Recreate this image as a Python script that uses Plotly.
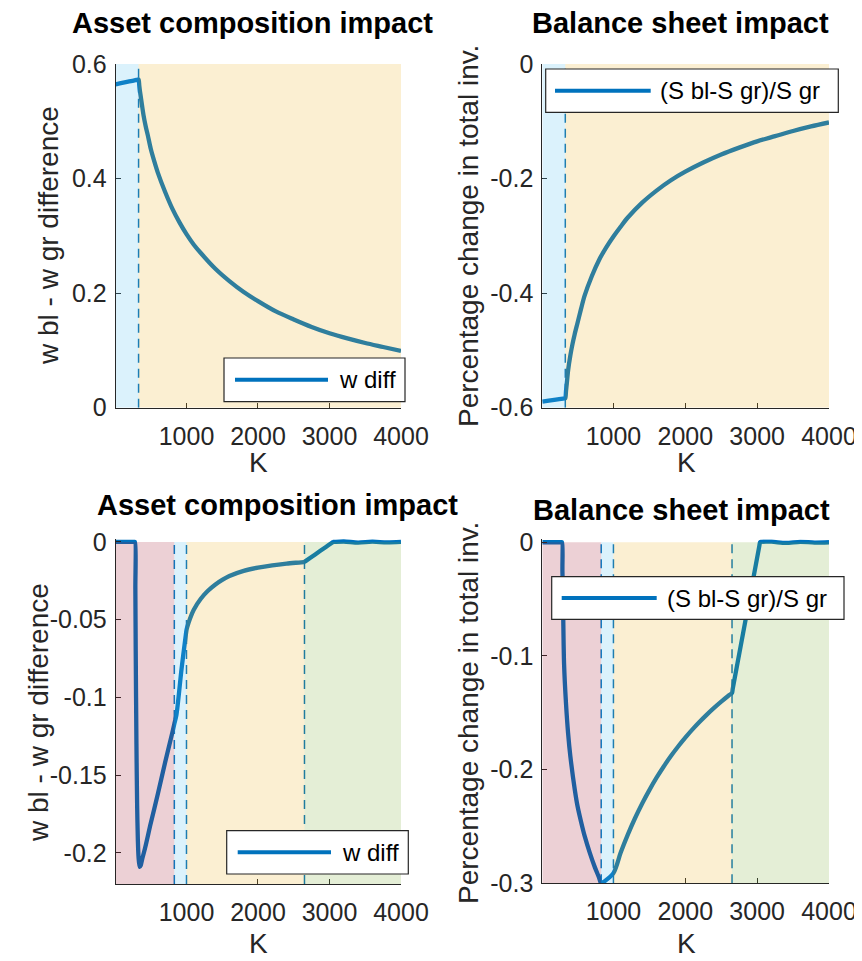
import plotly.graph_objects as go

# ---------------- data ----------------
K_tl = [10, 100, 200, 300, 320, 330, 340, 350, 370, 400, 430, 460, 500, 550, 600,
        700, 800, 900, 1000, 1100, 1200, 1400, 1600, 1800, 2000, 2250, 2500,
        2750, 3000, 3250, 3500, 3750, 4000]
w_diff_top = [0.5645, 0.567, 0.5695, 0.5722, 0.5728, 0.573, 0.562, 0.552, 0.535,
              0.51, 0.491, 0.475, 0.452, 0.43, 0.41, 0.377, 0.348, 0.324, 0.303,
              0.285, 0.27, 0.243, 0.221, 0.202, 0.186, 0.168, 0.154, 0.141, 0.130,
              0.121, 0.113, 0.106, 0.099]

K_tr = [10, 100, 200, 300, 320, 330, 340, 350, 370, 400, 430, 460, 500, 550, 600,
        700, 800, 900, 1000, 1100, 1200, 1400, 1600, 1800, 2000, 2250, 2500,
        2750, 3000, 3250, 3500, 3750, 4000]
s_diff_top = [-0.5895, -0.5878, -0.586, -0.5841, -0.5837, -0.5835, -0.571, -0.559,
              -0.534, -0.509, -0.489, -0.472, -0.452, -0.427, -0.404, -0.370, -0.342,
              -0.320, -0.301, -0.284, -0.268, -0.242, -0.221, -0.203, -0.188,
              -0.172, -0.158, -0.146, -0.135, -0.126, -0.117, -0.109, -0.102]

K_bl = [10, 150, 270, 280, 285, 290, 300, 310, 320, 330, 345, 360, 380, 420, 500,
        600, 700, 800, 830, 860, 930, 990, 1000, 1010, 1050, 1100, 1200, 1300,
        1400, 1500, 1600, 1800, 2000, 2200, 2400, 2640, 2650, 2660, 2800, 2950,
        3040, 3050, 3060, 3200, 3400, 3600, 3800, 4000]
w_diff_bot = [0, 0, 0, 0, -0.03, -0.07, -0.13, -0.17, -0.192, -0.203, -0.209, -0.208,
              -0.204, -0.197, -0.181, -0.162, -0.142, -0.123, -0.117, -0.111, -0.082,
              -0.06, -0.0567, -0.0548, -0.0492, -0.0437, -0.0365, -0.0314, -0.0275,
              -0.0244, -0.0219, -0.0186, -0.0165, -0.015, -0.0139, -0.0129, -0.0128,
              -0.0125, -0.008, -0.0032, -0.0003, 0, 0, 0.0003, -0.0004, 0.0002,
              -0.0003, 0]

K_br = [10, 150, 275, 285, 290, 300, 313, 340, 369, 400, 463, 500, 550, 602, 670,
        742, 800, 833, 845, 1000, 1100, 1200, 1300, 1400, 1500, 1600, 1700, 1800,
        1900, 2000, 2100, 2200, 2300, 2400, 2500, 2600, 2650, 2660, 2800, 2950,
        3030, 3040, 3050, 3200, 3400, 3600, 3800, 4000]
s_diff_bot = [0, 0, 0, 0, -0.025, -0.06, -0.107, -0.142, -0.168, -0.188, -0.218,
              -0.232, -0.246, -0.259, -0.273, -0.286, -0.295, -0.301, -0.3, -0.291,
              -0.2732, -0.2572, -0.2428, -0.2298, -0.218, -0.2071, -0.1972, -0.1881,
              -0.1797, -0.1719, -0.1646, -0.1579, -0.1516, -0.1457, -0.1402, -0.135,
              -0.1325, -0.129, -0.0815, -0.0306, -0.0034, 0, 0.0003, 0.0005, -0.0006,
              0.0004, -0.0003, 0]

top_bounds = [10, 330, 4000]
top_colors = ["#4DBEEE", "#EDB120"]
bot_bounds = [10, 830, 1000, 2650, 4000]
bot_colors = ["#A2142F", "#4DBEEE", "#EDB120", "#77AC30"]

x_ticks = [1000, 2000, 3000, 4000]
y_ticks_tl = [0, 0.2, 0.4, 0.6]
y_text_tl = ["0", "0.2", "0.4", "0.6"]
y_ticks_tr = [-0.6, -0.4, -0.2, 0]
y_text_tr = ["-0.6", "-0.4", "-0.2", "0"]
y_ticks_bl = [-0.2, -0.15, -0.1, -0.05, 0]
y_text_bl = ["-0.2", "-0.15", "-0.1", "-0.05", "0"]
y_ticks_br = [-0.3, -0.2, -0.1, 0]
y_text_br = ["-0.3", "-0.2", "-0.1", "0"]

titles = ["Asset composition impact", "Balance sheet impact",
          "Asset composition impact", "Balance sheet impact"]
ylabels = ["w bl - w gr difference", "Percentage change in total inv.",
           "w bl - w gr difference", "Percentage change in total inv."]
legend_names = ["w diff", "(S bl-S gr)/S gr", "w diff", "(S bl-S gr)/S gr"]

# ---------------- figure ----------------
OFF = 8                      # page body margin
W, H = 862 - OFF, 961 - OFF
FONT = "Liberation Sans, Arial, Helvetica, sans-serif"
LINE = "#0072BD"
AX = "#262626"

def px(x):
    return (x - OFF) / W

def py(y):
    return 1 - (y - OFF) / H

fig = go.Figure()

series = [(K_tl, w_diff_top), (K_tr, s_diff_top), (K_bl, w_diff_bot), (K_br, s_diff_bot)]
for i, (kx, vy) in enumerate(series):
    sfx = "" if i == 0 else str(i + 1)
    fig.add_trace(go.Scatter(x=kx, y=vy, mode="lines",
                             line=dict(color=LINE, width=4.3, shape="spline", smoothing=0.8),
                             xaxis="x" + sfx, yaxis="y" + sfx,
                             showlegend=False, hoverinfo="skip"))

# axes geometry (screen pixels)
axes_px = [
    (115.7, 401.0, 64.0, 407.7),
    (542.3, 829.0, 64.0, 407.7),
    (115.7, 401.0, 539.0, 884.0),
    (542.3, 829.0, 539.3, 883.3),
]
yranges = [[0, 0.6], [-0.6, 0], [-0.22, 0.0019], [-0.3, 0.0026]]
yticks = [(y_ticks_tl, y_text_tl), (y_ticks_tr, y_text_tr),
          (y_ticks_bl, y_text_bl), (y_ticks_br, y_text_br)]

layout = dict(width=W, height=H, margin=dict(l=0, r=0, t=0, b=0, autoexpand=False),
              paper_bgcolor="white", plot_bgcolor="white", showlegend=False)
for i, (l, r, t, b) in enumerate(axes_px):
    sfx = "" if i == 0 else str(i + 1)
    layout["xaxis" + sfx] = dict(
        domain=[px(l), px(r)], anchor="y" + sfx, range=[10, 4000], automargin=False,
        tickvals=x_ticks, ticktext=[str(v) for v in x_ticks],
        ticks="inside", ticklen=5, tickcolor=AX, tickwidth=1,
        showline=True, linecolor=AX, linewidth=1, mirror=False,
        showgrid=False, zeroline=False, ticklabelstandoff=6,
        tickfont=dict(family=FONT, size=25, color=AX))
    layout["yaxis" + sfx] = dict(
        domain=[py(b), py(t)], anchor="x" + sfx, range=yranges[i], automargin=False,
        tickvals=yticks[i][0], ticktext=yticks[i][1],
        ticks="inside", ticklen=5, tickcolor=AX, tickwidth=1,
        showline=True, linecolor=AX, linewidth=1, mirror=False,
        showgrid=False, zeroline=False, ticklabelstandoff=3,
        tickfont=dict(family=FONT, size=25, color=AX))
fig.update_layout(**layout)

shapes = []
annotations = []
for i in range(4):
    sfx = "" if i == 0 else str(i + 1)
    xr, yr = "x" + sfx, "y" + sfx
    bounds = top_bounds if i < 2 else bot_bounds
    colors = top_colors if i < 2 else bot_colors
    ylo = yranges[i][0]
    yhi = 0.6 if i == 0 else 0
    # dashed boundaries
    for bx in bounds[1:-1]:
        shapes.append(dict(type="line", xref=xr, yref=yr, x0=bx, x1=bx, y0=ylo, y1=yhi,
                           line=dict(color=LINE, width=1.5, dash="9px,6px"), layer="above"))
    # shaded regions
    for j, c in enumerate(colors):
        shapes.append(dict(type="rect", xref=xr, yref=yr, x0=bounds[j], x1=bounds[j + 1],
                           y0=ylo, y1=yhi, fillcolor=c, opacity=0.2,
                           line=dict(width=0), layer="above"))

# legends (box, sample line, label)  -- screen pixels
legend_px = [
    (224.0, 405.0, 358.0, 401.7, 235.0, 328.0, 337.0),
    (545.7, 838.3, 69.0, 112.3, 555.0, 650.7, 658.0),
    (226.7, 408.3, 830.7, 874.0, 237.7, 331.0, 340.0),
    (551.7, 844.0, 576.7, 619.3, 561.7, 656.7, 665.0),
]
for i, (x0, x1, y0, y1, lx0, lx1, tx) in enumerate(legend_px):
    shapes.append(dict(type="rect", xref="paper", yref="paper",
                       x0=px(x0), x1=px(x1), y0=py(y1), y1=py(y0),
                       fillcolor="white", line=dict(color="#262626", width=1.2),
                       layer="above"))
    yc = (y0 + y1) / 2
    shapes.append(dict(type="line", xref="paper", yref="paper",
                       x0=px(lx0), x1=px(lx1), y0=py(yc), y1=py(yc),
                       line=dict(color=LINE, width=4), layer="above"))
    annotations.append(dict(text=legend_names[i], xref="paper", yref="paper",
                            x=px(tx), y=py(yc), xanchor="left", yanchor="middle",
                            showarrow=False, font=dict(family=FONT, size=24, color="black")))

# titles
title_pos = [(252, 23), (680, 23), (277, 505), (681, 510)]
for i, (tx, ty) in enumerate(title_pos):
    annotations.append(dict(text="<b>" + titles[i] + "</b>", xref="paper", yref="paper",
                            x=px(tx), y=py(ty), xanchor="center", yanchor="middle",
                            showarrow=False, font=dict(family=FONT, size=29, color="black")))

# axis titles
xlab_pos = [(258, 462), (686, 462), (258, 943), (686, 943)]
for (tx, ty) in xlab_pos:
    annotations.append(dict(text="K", xref="paper", yref="paper", x=px(tx), y=py(ty),
                            xanchor="center", yanchor="middle", showarrow=False,
                            font=dict(family=FONT, size=28, color="#262626")))
ylab_pos = [(48, 236), (468, 236), (38, 713), (468, 713)]
for i, (tx, ty) in enumerate(ylab_pos):
    annotations.append(dict(text=ylabels[i], xref="paper", yref="paper", x=px(tx), y=py(ty),
                            xanchor="center", yanchor="middle", textangle=-90,
                            showarrow=False, font=dict(family=FONT, size=28, color="#262626")))

fig.update_layout(shapes=shapes, annotations=annotations)
fig.write_html("out.html")
